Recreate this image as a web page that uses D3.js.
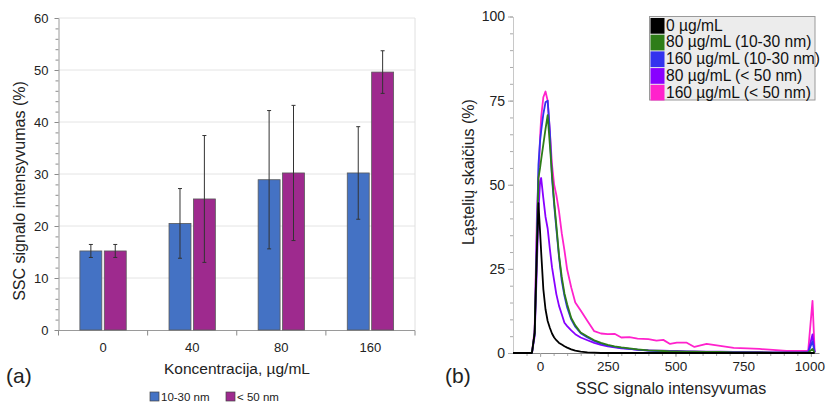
<!DOCTYPE html>
<html><head><meta charset="utf-8">
<script src="https://cdn.jsdelivr.net/npm/d3@7"></script>
<style>
html,body{margin:0;padding:0;background:#fff;}
svg{display:block;font-family:"Liberation Sans",Arial,sans-serif;}
</style></head>
<body><svg id="c" width="826" height="404"></svg>
<script>
// ---------- Panel (a) data ----------
const categories = ["0", "40", "80", "160"];
const seriesA = ["10-30 nm", "< 50 nm"];
const valuesSmall = [15.2, 20.5, 28.9, 30.2];   // 10-30 nm
const errSmall    = [1.25, 6.7, 13.3, 8.9];
const valuesLarge = [15.2, 25.2, 30.2, 49.6];   // < 50 nm
const errLarge    = [1.25, 12.2, 13.0, 4.1];
const yTicksA = [0, 10, 20, 30, 40, 50, 60];

// ---------- Panel (b) data ----------
const xB = [-100, -30, -20, -12, -6, 0, 4, 12, 20, 28, 36, 44, 52, 60, 70, 80, 90, 100, 115, 130, 150, 175, 200, 225, 250, 275, 300, 330, 360, 400, 430, 455, 480, 505, 540, 570, 615, 665, 715, 765, 810, 860, 910, 960, 990, 1006, 1014];
const black0   = [0, 0, 6, 30, 44.5, 36, 30, 19, 13, 9.5, 7.5, 5.8, 4.6, 3.8, 3, 2.5, 2, 1.6, 1.1, 0.7, 0.4, 0.2, 0.1, 0, 0, 0, 0, 0, 0, 0, 0, 0, 0, 0, 0, 0, 0, 0, 0, 0, 0, 0, 0, 0, 0, 0, 0];
const green80s = [0, 0, 6, 30, 52, 55, 57.5, 62, 66.5, 70.7, 62, 53, 45, 38, 29, 22.6, 17.7, 14.5, 10.4, 8.2, 6.1, 4.9, 3.8, 3.0, 2.4, 2.0, 1.7, 1.4, 1.1, 0.8, 0.7, 0.6, 0.5, 0.5, 0.4, 0.4, 0.3, 0.3, 0.2, 0.2, 0.2, 0.1, 0.1, 0.1, 0.1, 1.2, 0.1];
const blue160s = [0, 0, 6, 35, 56, 63, 66, 71, 74.5, 75, 66, 52, 44, 37, 28.5, 21.5, 17, 13.5, 10, 7.8, 5.9, 4.6, 3.6, 2.8, 2.2, 1.8, 1.5, 1.2, 1.0, 0.7, 0.6, 0.5, 0.5, 0.4, 0.4, 0.3, 0.3, 0.2, 0.2, 0.2, 0.1, 0.1, 0.1, 0.1, 0.1, 3.5, 0.2];
const violet80 = [0, 0, 5, 25, 42, 51, 52, 46, 40.5, 37, 31, 25.5, 21.5, 17.5, 14, 11.5, 9, 8, 6.7, 5.6, 4.6, 3.8, 3.0, 2.4, 2.0, 1.7, 1.4, 1.2, 0.9, 0.8, 0.7, 0.7, 0.6, 0.6, 0.5, 0.5, 0.4, 0.4, 0.3, 0.3, 0.3, 0.2, 0.2, 0.2, 0.3, 5.5, 0.2];
const pink160  = [0, 0, 7, 40, 52, 64, 70, 76, 77.7, 75, 66, 56, 50, 47, 42, 35.6, 30.5, 24.8, 19.5, 15, 12.6, 9.5, 6.5, 5.8, 5.6, 5.7, 4.6, 4.7, 4.3, 4.1, 3.7, 3.9, 2.7, 3.1, 3.1, 1.8, 2.7, 2.1, 1.5, 1.4, 1.2, 0.9, 0.6, 0.6, 0.6, 15.5, 0.3];
const legendB = ["0 µg/mL", "80 µg/mL (10-30 nm)", "160 µg/mL (10-30 nm)", "80 µg/mL (< 50 nm)", "160 µg/mL (< 50 nm)"];
const xTicksB = [0, 250, 500, 750, 1000];
const yTicksB = [0, 25, 50, 75, 100];

const colA = ["#4472c4", "#9e2a8e"];
const colB = ["#000000", "#2e7d18", "#3333ee", "#8800ff", "#ff22cc"];

const svg = d3.select("#c");

// ================= Panel (a) =================
const gA = svg.append("g");
const xa = d3.scaleBand().domain(categories).range([58.5, 415]).paddingInner(0.48).paddingOuter(0.24);
const xs = d3.scaleBand().domain(seriesA).range([0, xa.bandwidth()]).paddingInner(0.1);
const ya = d3.scaleLinear().domain([0, 60]).range([330, 18]);

gA.append("g").selectAll("line").data(yTicksA.slice(1)).join("line")
  .attr("x1", 58.5).attr("x2", 415).attr("y1", d => ya(d)).attr("y2", d => ya(d))
  .attr("stroke", "#e4e4e4").attr("stroke-width", 1);
gA.append("line").attr("x1", 415).attr("x2", 415).attr("y1", ya(60)).attr("y2", ya(0))
  .attr("stroke", "#e0e0e0");

const minorA = gA.append("g").attr("transform", "translate(58.5,0)")
  .call(d3.axisLeft(ya).tickValues(d3.range(0, 61, 2)).tickSize(3).tickFormat(""));
minorA.select(".domain").remove();
minorA.selectAll("line").attr("stroke", "#8a8a8a");
const axA = gA.append("g").attr("transform", "translate(58.5,0)")
  .call(d3.axisLeft(ya).tickValues(yTicksA).tickSize(4).tickPadding(6).tickSizeOuter(0));
axA.select(".domain").attr("stroke", "#9a9a9a");
axA.selectAll("line").attr("stroke", "#8a8a8a");
axA.selectAll("text").attr("font-size", 13).attr("fill", "#222").attr("font-family", "Liberation Sans, Arial, sans-serif");

const xBounds = d3.range(categories.length + 1).map(i => xa.range()[0] + i * xa.step());
gA.append("line").attr("x1", 58.5).attr("x2", 415).attr("y1", 330.5).attr("y2", 330.5).attr("stroke", "#9a9a9a");
gA.append("g").selectAll("line").data(xBounds).join("line")
  .attr("x1", d => d).attr("x2", d => d).attr("y1", 330.5).attr("y2", 335.5).attr("stroke", "#8a8a8a");
gA.append("g").selectAll("text").data(categories).join("text")
  .attr("x", d => xa(d) + xa.bandwidth() / 2).attr("y", 351.5)
  .attr("text-anchor", "middle").attr("font-size", 13).attr("fill", "#222").text(d => d);

const dataA = [valuesSmall, valuesLarge];
const errA = [errSmall, errLarge];
seriesA.forEach((s, si) => {
  const g = gA.append("g");
  g.selectAll("rect").data(categories).join("rect")
    .attr("x", (c) => xa(c) + xs(s)).attr("width", xs.bandwidth())
    .attr("y", (c, i) => ya(dataA[si][i])).attr("height", (c, i) => ya(0) - ya(dataA[si][i]))
    .attr("fill", colA[si]).attr("stroke", "#5a5a5a").attr("stroke-width", 0.8);
});
seriesA.forEach((s, si) => {
  const g = gA.append("g").attr("stroke", "#333").attr("stroke-width", 1);
  categories.forEach((c, i) => {
    const cx = xa(c) + xs(s) + xs.bandwidth() / 2;
    const hi = ya(dataA[si][i] + errA[si][i]), lo = ya(dataA[si][i] - errA[si][i]);
    g.append("line").attr("x1", cx).attr("x2", cx).attr("y1", hi).attr("y2", lo);
    g.append("line").attr("x1", cx - 2).attr("x2", cx + 2).attr("y1", hi).attr("y2", hi);
    g.append("line").attr("x1", cx - 2).attr("x2", cx + 2).attr("y1", lo).attr("y2", lo);
  });
});

gA.append("text").attr("transform", "translate(25,191) rotate(-90)").attr("text-anchor", "middle")
  .attr("font-size", 16).attr("fill", "#222").text("SSC signalo intensyvumas (%)");
gA.append("text").attr("x", 237).attr("y", 374).attr("text-anchor", "middle")
  .attr("font-size", 15.5).attr("fill", "#222").text("Koncentracija, µg/mL");
gA.append("text").attr("x", 6).attr("y", 383).attr("font-size", 21).attr("fill", "#222").text("(a)");

const legA = gA.append("g");
const legAx = [150, 226];
seriesA.forEach((s, i) => {
  legA.append("rect").attr("x", legAx[i]).attr("y", 392).attr("width", 9).attr("height", 9)
    .attr("fill", colA[i]).attr("stroke", "#444").attr("stroke-width", 0.7);
  legA.append("text").attr("x", legAx[i] + 11).attr("y", 400.5).attr("font-size", 11.5).attr("fill", "#222").text(s);
});

// ================= Panel (b) =================
const gB = svg.append("g");
const xb = d3.scaleLinear().domain([-100, 1030]).range([513, 819]);
const yb = d3.scaleLinear().domain([0, 100]).range([353, 16.5]);

const minorB = gB.append("g").attr("transform", "translate(513,0)")
  .call(d3.axisLeft(yb).tickValues(d3.range(0, 101, 5)).tickSize(3).tickFormat(""));
minorB.select(".domain").remove();
minorB.selectAll("line").attr("stroke", "#aaa");
const axBY = gB.append("g").attr("transform", "translate(513,0)")
  .call(d3.axisLeft(yb).tickValues(yTicksB).tickSize(5).tickPadding(3).tickSizeOuter(0));
axBY.select(".domain").attr("stroke", "#c8c8c8");
axBY.selectAll("line").attr("stroke", "#aaa");
axBY.selectAll("text").attr("font-size", 14).attr("fill", "#222").attr("font-family", "Liberation Sans, Arial, sans-serif");

const minorBX = gB.append("g").attr("transform", "translate(0,353)")
  .call(d3.axisBottom(xb).tickValues(d3.range(-50, 1001, 50)).tickSize(3).tickFormat(""));
minorBX.select(".domain").remove();
minorBX.selectAll("line").attr("stroke", "#aaa");
const axBX = gB.append("g").attr("transform", "translate(0,353)")
  .call(d3.axisBottom(xb).tickValues(xTicksB).tickFormat(d3.format("d")).tickSize(4).tickPadding(4).tickSizeOuter(0));
axBX.select(".domain").attr("stroke", "#888");
axBX.selectAll("line").attr("stroke", "#aaa");
axBX.selectAll("text").attr("font-size", 13.5).attr("fill", "#222").attr("font-family", "Liberation Sans, Arial, sans-serif");
axBX.selectAll("text").filter(d => d === 1000).attr("dx", -1.5);

const seriesB = [black0, green80s, blue160s, violet80, pink160];
const order = [4, 3, 2, 1, 0];
const line = d3.line().x((d, i) => xb(xB[i])).y(d => yb(d));
order.forEach(k => {
  gB.append("path").datum(seriesB[k]).attr("d", line)
    .attr("fill", "none").attr("stroke", colB[k]).attr("stroke-width", 1.8).attr("stroke-linejoin", "round");
});

const legB = gB.append("g");
const rowH = 16.7;
legB.append("rect").attr("x", 649.5).attr("y", 16.5).attr("width", 165.5).attr("height", 83.5)
  .attr("fill", "#ececec").attr("stroke", "#9a9a9a").attr("stroke-width", 1);
legendB.forEach((t, i) => {
  legB.append("rect").attr("x", 650.5).attr("y", 17.5 + i * rowH + 0.5).attr("width", 14).attr("height", rowH - 1)
    .attr("fill", colB[i]);
  legB.append("text").attr("x", 666).attr("y", 17.5 + i * rowH + 13.2).attr("font-size", 15.6).attr("fill", "#111").text(t);
});

gB.append("text").attr("transform", "translate(474,172) rotate(-90)").attr("text-anchor", "middle")
  .attr("font-size", 16).attr("fill", "#222").text("Ląstelių skaičius (%)");
gB.append("text").attr("x", 671).attr("y", 394).attr("text-anchor", "middle")
  .attr("font-size", 16).attr("fill", "#222").text("SSC signalo intensyvumas");
gB.append("text").attr("x", 445).attr("y", 383).attr("font-size", 21).attr("fill", "#222").text("(b)");
</script>
</body></html>
